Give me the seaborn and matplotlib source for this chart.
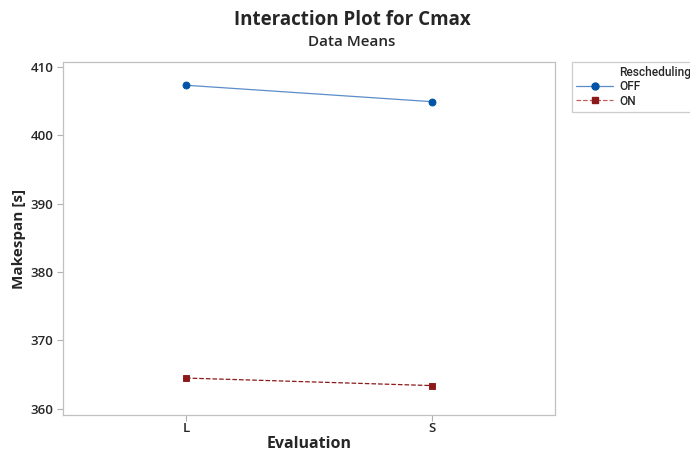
import matplotlib
matplotlib.use("Agg")
import matplotlib.pyplot as plt
import seaborn as sns
import pandas as pd
from matplotlib.lines import Line2D

# Mean makespan per evaluation level and rescheduling setting
evaluation = ["L", "S"]
resched_off = [407.3, 404.9]
resched_on = [364.5, 363.4]

df = pd.DataFrame({
    "Evaluation": evaluation * 2,
    "Makespan": resched_off + resched_on,
    "Rescheduling": ["OFF"] * 2 + ["ON"] * 2,
})

sns.set_theme(style="white")
plt.rcParams["font.family"] = ["Open Sans", "DejaVu Sans"]

fig = plt.figure(figsize=(6.9, 4.54), dpi=100)
ax = fig.add_axes([63 / 690, 1 - 415 / 454, 492 / 690, 353 / 454])

marker_col = {"OFF": "#0054A6", "ON": "#8C1A1A"}
line_col = {"OFF": "#5B8DC9", "ON": "#C06060"}
sns.pointplot(
    data=df, x="Evaluation", y="Makespan", hue="Rescheduling",
    palette=marker_col, markers=["o", "s"], linestyles=["-", "--"],
    markersize=5, linewidth=0.9, ax=ax, legend=False,
)
for line, key in zip(ax.lines, ["OFF", "ON"]):
    line.set_color(line_col[key])
    line.set_markerfacecolor(marker_col[key])
    line.set_markeredgecolor(marker_col[key])

ax.set_xlim(-0.5, 1.5)
ax.set_ylim(359.1, 410.7)
ax.set_yticks([360, 370, 380, 390, 400, 410])
ax.set_xlabel("Evaluation", fontsize=11.5, fontweight="bold", labelpad=1)
ax.set_ylabel("Makespan [s]", fontsize=11, fontweight="bold", labelpad=3)
ax.tick_params(axis="both", which="both", direction="out", length=4, width=0.8,
               color="#B0B0B0", labelsize=9.5, left=True, bottom=True)
ax.tick_params(axis="x", pad=1)
ax.tick_params(axis="y", pad=3)
for lab in ax.get_xticklabels() + ax.get_yticklabels():
    lab.set_fontweight("semibold")
for sp in ax.spines.values():
    sp.set_color("#C0C0C0")
    sp.set_linewidth(0.9)

fig.text(0.51, 0.955, "Interaction Plot for Cmax", ha="center", va="center",
         fontsize=13.5, fontweight="bold")
fig.text(0.51, 0.907, "Data Means", ha="center", va="center",
         fontsize=11, fontweight="semibold")

# Legend outside the plot area, at the top right; the heading sits in line with the labels
handles = [
    Line2D([], [], color="none"),
    Line2D([], [], color=line_col["OFF"], ls="-", lw=0.9, marker="o", ms=5,
           mfc=marker_col["OFF"], mec=marker_col["OFF"]),
    Line2D([], [], color=line_col["ON"], ls="--", lw=0.9, marker="s", ms=5,
           mfc=marker_col["ON"], mec=marker_col["ON"]),
]
leg = fig.legend(handles, ["Rescheduling", "OFF", "ON"],
                 loc="upper left", bbox_to_anchor=(572 / 690, 1 - 62 / 454),
                 frameon=True, fancybox=False,
                 prop={"family": ["Roboto", "DejaVu Sans"], "size": 8.6,
                       "weight": "medium"},
                 handlelength=3.1, borderpad=0.35, labelspacing=0.1,
                 handletextpad=0.5, borderaxespad=0)
leg.get_frame().set_edgecolor("#C0C0C0")
leg.get_frame().set_linewidth(0.9)

fig.savefig("out.png", dpi=100)
